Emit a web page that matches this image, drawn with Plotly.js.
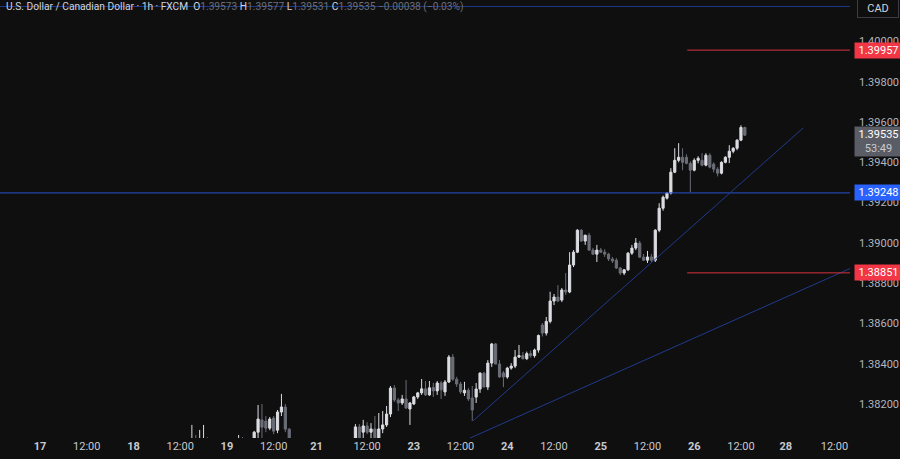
<!DOCTYPE html>
<html>
<head>
<meta charset="utf-8">
<script src="https://cdn.plot.ly/plotly-3.0.1.min.js"></script>
<style>
html,body{margin:0;padding:0;background:#0f0f0f;}
#chart{width:900px;height:459px;}
</style>
</head>
<body>
<div id="chart"></div>
<script>
// hourly bar index (0 = 17th 00:00); weekend hours are skipped
const barIndex = [39,40,41,42,43,51,52,55,56,57,58,59,60,61,62,63,64,
  81,82,83,84,85,86,87,88,89,90,
  91,92,93,94,95,96,97,98,99,100,
  101,102,103,104,105,106,107,108,109,110,
  111,112,113,114,115,116,117,118,119,120,
  121,122,123,124,125,126,127,128,129,130,
  131,132,133,134,135,136,137,138,139,140,
  141,142,143,144,145,146,147,148,149,150,
  151,152,153,154,155,156,157,158,159,160,
  161,162,163,164,165,166,167,168,169,170,
  171,172,173,174,175,176,177,178,179,180,181];

const openPx = [1.37995,1.38015,1.38000,1.38010,1.38020,1.38000,1.38020,
  1.38010,1.38060,1.38121,1.38115,1.38080,1.38130,1.38070,1.38160,1.38185,1.38075,
  1.38010,1.38086,1.38060,1.38091,1.38060,1.38076,1.38015,1.38076,1.38096,1.38150,
  1.38279,1.38220,1.38205,1.38225,1.38175,1.38200,1.38235,1.38255,1.38275,1.38245,
  1.38282,1.38265,1.38304,1.38260,1.38309,1.38433,1.38323,1.38299,1.38255,1.38268,
  1.38230,1.38234,1.38274,1.38353,1.38284,1.38403,1.38498,1.38398,1.38354,1.38334,
  1.38378,1.38388,1.38433,1.38440,1.38425,1.38450,1.38440,1.38468,1.38592,1.38552,
  1.38610,1.38711,1.38731,1.38716,1.38766,1.38756,1.38890,1.38954,1.39063,1.39009,
  1.39038,1.38964,1.38944,1.38964,1.38954,1.38944,1.38920,1.38914,1.38875,1.38850,
  1.38866,1.38949,1.38974,1.38999,1.38929,1.38914,1.38930,1.38914,1.39063,1.39172,
  1.39222,1.39247,1.39351,1.39410,1.39425,1.39425,1.39395,1.39361,1.39410,1.39410,
  1.39386,1.39435,1.39391,1.39366,1.39346,1.39400,1.39425,1.39455,1.39470,1.39510,1.39573];

const highPx = [1.38096,1.38046,1.38071,1.38096,1.38035,1.38046,1.38036,
  1.38066,1.38195,1.38200,1.38140,1.38135,1.38140,1.38170,1.38250,1.38200,1.38080,
  1.38100,1.38100,1.38121,1.38110,1.38105,1.38140,1.38155,1.38165,1.38190,1.38289,
  1.38294,1.38230,1.38245,1.38319,1.38210,1.38240,1.38260,1.38324,1.38314,1.38314,
  1.38305,1.38314,1.38314,1.38319,1.38443,1.38448,1.38335,1.38310,1.38310,1.38280,
  1.38289,1.38304,1.38358,1.38360,1.38418,1.38503,1.38503,1.38418,1.38364,1.38384,
  1.38403,1.38468,1.38493,1.38458,1.38460,1.38465,1.38475,1.38545,1.38602,1.38632,
  1.38757,1.38746,1.38790,1.38776,1.38850,1.38954,1.38964,1.39068,1.39068,1.39040,
  1.39050,1.38975,1.38990,1.38975,1.38968,1.38950,1.38930,1.38925,1.38880,1.38870,
  1.38954,1.38990,1.39024,1.39010,1.38945,1.38960,1.38945,1.39068,1.39197,1.39235,
  1.39250,1.39371,1.39470,1.39495,1.39470,1.39440,1.39405,1.39420,1.39430,1.39445,
  1.39445,1.39445,1.39400,1.39376,1.39405,1.39430,1.39485,1.39475,1.39515,1.39584,1.39577];

const lowPx = [1.37980,1.37990,1.37985,1.37990,1.37990,1.37980,1.37990,
  1.37990,1.38000,1.38030,1.38060,1.38070,1.38050,1.38055,1.38140,1.38060,1.37990,
  1.37990,1.38000,1.38020,1.38050,1.38020,1.38000,1.37995,1.38055,1.38086,1.38135,
  1.38210,1.38165,1.38195,1.38175,1.38096,1.38195,1.38225,1.38245,1.38240,1.38240,
  1.38235,1.38245,1.38225,1.38240,1.38304,1.38315,1.38285,1.38250,1.38240,1.38215,
  1.38116,1.38205,1.38255,1.38284,1.38269,1.38384,1.38398,1.38330,1.38284,1.38325,
  1.38370,1.38378,1.38428,1.38420,1.38418,1.38430,1.38430,1.38455,1.38535,1.38540,
  1.38600,1.38691,1.38706,1.38706,1.38741,1.38750,1.38880,1.38949,1.39004,1.38990,
  1.38960,1.38940,1.38905,1.38950,1.38930,1.38910,1.38900,1.38870,1.38840,1.38840,
  1.38860,1.38940,1.38964,1.38925,1.38910,1.38900,1.38905,1.38905,1.39053,1.39160,
  1.39215,1.39240,1.39346,1.39400,1.39361,1.39390,1.39252,1.39355,1.39395,1.39380,
  1.39380,1.39370,1.39350,1.39330,1.39340,1.39395,1.39396,1.39445,1.39460,1.39505,1.39531];

const closePx = [1.38015,1.38000,1.38010,1.38020,1.38000,1.38020,1.38005,
  1.38060,1.38125,1.38085,1.38080,1.38125,1.38065,1.38160,1.38185,1.38075,1.38010,
  1.38086,1.38020,1.38091,1.38060,1.38076,1.38020,1.38076,1.38096,1.38150,1.38279,
  1.38220,1.38205,1.38225,1.38180,1.38205,1.38235,1.38255,1.38275,1.38245,1.38280,
  1.38265,1.38304,1.38270,1.38309,1.38433,1.38323,1.38299,1.38260,1.38268,1.38225,
  1.38170,1.38274,1.38353,1.38284,1.38403,1.38498,1.38398,1.38334,1.38334,1.38378,
  1.38388,1.38433,1.38440,1.38425,1.38450,1.38440,1.38468,1.38540,1.38552,1.38610,
  1.38711,1.38731,1.38711,1.38766,1.38756,1.38890,1.38954,1.39063,1.39009,1.39038,
  1.38964,1.38944,1.38964,1.38954,1.38944,1.38920,1.38910,1.38875,1.38850,1.38866,
  1.38949,1.38974,1.38999,1.38929,1.38914,1.38930,1.38914,1.39063,1.39172,1.39227,
  1.39247,1.39351,1.39410,1.39425,1.39400,1.39395,1.39361,1.39410,1.39420,1.39386,
  1.39435,1.39376,1.39366,1.39346,1.39400,1.39425,1.39455,1.39470,1.39510,1.39573,1.39535];

// time axis labels
const timeTickIdx = [0,12,24,36,48,60,71,84,96,108,120,132,144,156,168,180,191.5,204];
const timeTickText = ['<b>17</b>','12:00','<b>18</b>','12:00','<b>19</b>','12:00','<b>21</b>','12:00',
  '<b>23</b>','12:00','<b>24</b>','12:00','<b>25</b>','12:00','<b>26</b>','12:00','<b>28</b>','12:00'];

// price axis labels
const priceTicks = [1.382,1.384,1.386,1.388,1.390,1.392,1.394,1.396,1.398,1.400];

// horizontal levels drawn on the chart
const topLine = 1.40174;
const supportLevel = 1.39248;
const redLevels = [1.39957, 1.38851];
const redLevelStart = 166.2;

// trendlines [index, price]
const trend1 = {x:[111.2, 196], y:[1.38116, 1.39571]};
const trend2 = {x:[100.5, 215], y:[1.37945, 1.38933]};

// legend values
const ohlcText = {O:'1.39573', H:'1.39577', L:'1.39531', C:'1.39535', chg:'−0.00038 (−0.03%)'};
const lastPrice = 1.39535;
const countdown = '53:49';

const FONT = 'Roboto, "Liberation Sans", sans-serif';
const UP = '#dcdde2', DOWN = '#6b6e77';
const NAVY = '#1f3a8c';

const trace = {
  type:'candlestick', x:barIndex, open:openPx, high:highPx, low:lowPx, close:closePx,
  increasing:{line:{color:UP, width:1}, fillcolor:UP},
  decreasing:{line:{color:DOWN, width:1}, fillcolor:DOWN},
  whiskerwidth:0, hoverinfo:'skip', showlegend:false
};

const shapes = [
  {type:'line', xref:'paper', x0:0, x1:1, yref:'y', y0:topLine, y1:topLine, line:{color:NAVY, width:1}, layer:'above'},
  {type:'line', xref:'paper', x0:0, x1:1, yref:'y', y0:supportLevel, y1:supportLevel, line:{color:'#2a50cc', width:1}, layer:'above'},
  {type:'line', xref:'x', x0:trend1.x[0], x1:trend1.x[1], yref:'y', y0:trend1.y[0], y1:trend1.y[1], line:{color:NAVY, width:1}, layer:'above'},
  {type:'line', xref:'x', x0:trend2.x[0], x1:trend2.x[1], yref:'y', y0:trend2.y[0], y1:trend2.y[1], line:{color:NAVY, width:1}, layer:'above'}
];
redLevels.forEach(p => shapes.push({type:'line', xref:'x', x0:redLevelStart, x1:215, yref:'y', y0:p, y1:p, line:{color:'#d8323f', width:1}, layer:'above'}));

const fmt = v => v.toFixed(5);
const priceBox = (p, bg, text, yshift) => ({
  xref:'paper', x:1, xanchor:'left', xshift:4, yref:'y', y:p, yanchor:'middle', yshift:yshift||0,
  text:text, showarrow:false, bgcolor:bg, width:45, borderpad:1, align:'center',
  font:{family:FONT, size:11, color:'#ffffff'}
});

const G = DOWN;
const titleText = '<span style="color:#d1d4dc">U.S. Dollar / Canadian Dollar · 1h · FXCM</span>  ' +
  '<span style="color:#d1d4dc">O</span><span style="color:'+G+'">'+ohlcText.O+'</span> ' +
  '<span style="color:#d1d4dc">H</span><span style="color:'+G+'">'+ohlcText.H+'</span> ' +
  '<span style="color:#d1d4dc">L</span><span style="color:'+G+'">'+ohlcText.L+'</span> ' +
  '<span style="color:#d1d4dc">C</span><span style="color:'+G+'">'+ohlcText.C+'</span> ' +
  '<span style="color:'+G+'">'+ohlcText.chg+'</span>';

const annotations = [
  {xref:'paper', x:0, xanchor:'left', xshift:4, yref:'paper', y:1, yanchor:'middle', yshift:-7,
   text:titleText, showarrow:false, font:{family:FONT, size:10.2, color:'#d1d4dc'}},
  {xref:'paper', x:1, xanchor:'left', xshift:7, yref:'paper', y:1, yanchor:'top', yshift:2,
   text:'CAD', showarrow:false, width:38, height:16, bgcolor:'#0f0f0f', bordercolor:'#3a3d45', borderwidth:1,
   font:{family:FONT, size:11, color:'#d1d4dc'}},
  priceBox(redLevels[0], '#f23645', fmt(redLevels[0])),
  priceBox(lastPrice, '#5a5d66', fmt(lastPrice)+'<br><span style="color:#c9cad0">'+countdown+'</span>', -6),
  priceBox(supportLevel, '#2962ff', fmt(supportLevel)),
  priceBox(redLevels[1], '#f23645', fmt(redLevels[1]))
];

const layout = {
  width:900, height:459,
  margin:{l:0, r:50, t:0, b:21},
  paper_bgcolor:'#0f0f0f', plot_bgcolor:'#0f0f0f',
  showlegend:false, boxgap:0.2,
  font:{family:FONT, size:11, color:'#b2b5be'},
  xaxis:{type:'linear', range:[-10.27, 208], tickmode:'array', tickvals:timeTickIdx, ticktext:timeTickText,
    showgrid:false, zeroline:false, showline:false, ticks:'', rangeslider:{visible:false},
    tickfont:{family:FONT, size:11, color:'#c8cad0'}, fixedrange:true},
  yaxis:{side:'right', range:[1.38031, 1.40206], tickmode:'array', tickvals:priceTicks, ticktext:priceTicks.map(fmt),
    showgrid:false, zeroline:false, showline:false, ticks:'', ticklabelstandoff:8,
    tickfont:{family:FONT, size:11, color:'#b2b5be'}, fixedrange:true},
  shapes:shapes, annotations:annotations
};

Plotly.newPlot('chart', [trace], layout, {displayModeBar:false, staticPlot:true});
</script>
</body>
</html>
